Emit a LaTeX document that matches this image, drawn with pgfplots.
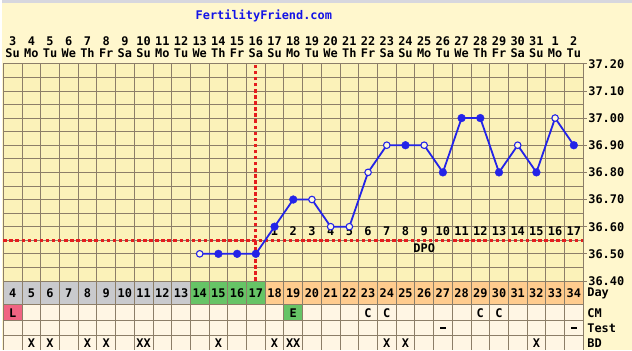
\documentclass[border=0pt]{standalone}
\usepackage{pgfplots}
\pgfplotsset{compat=1.18}
\usepackage{fontspec}
\setmainfont{DejaVu Sans Mono}
\definecolor{outerbg}{RGB}{255,247,205}
\definecolor{gridbg}{RGB}{251,242,185}
\definecolor{gridline}{RGB}{140,126,104}
\definecolor{topgray}{RGB}{215,215,222}
\definecolor{daygray}{RGB}{201,202,205}
\definecolor{daygreen}{RGB}{102,196,102}
\definecolor{dayorange}{RGB}{255,204,142}
\definecolor{cream}{RGB}{255,246,228}
\definecolor{lpink}{RGB}{240,100,130}
\definecolor{ffblue}{RGB}{35,35,232}
\definecolor{ffred}{RGB}{228,30,30}
\definecolor{titleblue}{RGB}{20,20,230}
\newcommand\lbl{\fontsize{12}{12}\selectfont\bfseries}
\begin{document}
\begin{tikzpicture}
\fill[outerbg] (0,0) rectangle (632bp,351bp);
\fill[topgray] (0,348bp) rectangle (632bp,351bp);
\begin{scope}[shift={(0,351bp)},x=1bp,y=-1bp]
  \node[font=\lbl, text=titleblue] at (262.5,16) {FertilityFriend.com};
  \foreach \d [count=\i from 0] in {3,4,5,6,7,8,9,10,11,12,13,14,15,16,17,18,19,20,21,22,23,24,25,26,27,28,29,30,31,1,2}
    \node[font=\lbl, inner sep=0pt] at ({1+(\i+0.5)*18.774},41) {\d};
  \foreach \w [count=\i from 0] in {Su,Mo,Tu,We,Th,Fr,Sa,Su,Mo,Tu,We,Th,Fr,Sa,Su,Mo,Tu,We,Th,Fr,Sa,Su,Mo,Tu,We,Th,Fr,Sa,Su,Mo,Tu}
    \node[font=\lbl, inner sep=0pt] at ({1+(\i+0.5)*18.774},53) {\w};
  % day row
  \foreach \i in {0,...,30} {
    \ifnum\i<10 \def\cc{daygray}\else\ifnum\i<14 \def\cc{daygreen}\else\def\cc{dayorange}\fi\fi
    \fill[\cc] ({1+\i*18.774},282) rectangle ({1+(\i+1)*18.774},306);
    \pgfmathtruncatemacro\dd{\i+4}
    \node[font=\lbl, inner sep=0pt] at ({1+(\i+0.5)*18.774},294) {\dd};
  }
  \fill[cream] (1,306) rectangle (583,351);
  \fill[lpink] (1,306) rectangle ({1+18.774},322);
  \fill[daygreen] ({1+15*18.774},306) rectangle ({1+16*18.774},322);
  \foreach \i in {0,...,31}
    \draw[gridline, line width=0.8bp] ({1+\i*18.774},282) -- ({1+\i*18.774},351);
  \foreach \y in {282,306,322,337}
    \draw[gridline, line width=0.8bp] (1,\y) -- (583,\y);
  % CM row
  \node[font=\lbl, inner sep=0pt] at ({1+0.5*18.774},314) {L};
  \node[font=\lbl, inner sep=0pt] at ({1+15.5*18.774},314) {E};
  \foreach \i in {19,20,25,26}
    \node[font=\lbl, inner sep=0pt] at ({1+(\i+0.5)*18.774},314) {C};
  % Test row
  \foreach \i in {23,30}
    \fill[black] ({1+(\i+0.5)*18.774-3},328.5) rectangle ({1+(\i+0.5)*18.774+3},330.5);
  % BD row
  \foreach \i/\t in {1/X,2/X,4/X,5/X,7/XX,11/X,14/X,15/XX,20/X,21/X,28/X}
    \node[font=\lbl, inner sep=0pt] at ({1+(\i+0.5)*18.774},344.3) {\t};
  % right labels
  \node[font=\lbl, anchor=west, inner sep=0pt] at (587,294) {Day};
  \node[font=\lbl, anchor=west, inner sep=0pt] at (587,314) {CM};
  \node[font=\lbl, anchor=west, inner sep=0pt] at (587,329.5) {Test};
  \node[font=\lbl, anchor=west, inner sep=0pt] at (587,344.3) {BD};
\end{scope}
\begin{axis}[
  at={(1bp,69bp)}, anchor=south west, scale only axis,
  width=582bp, height=218bp,
  xmin=-0.5, xmax=30.5, ymin=36.4, ymax=37.2,
  axis background/.style={fill=gridbg},
  xtick={-0.5,0.5,...,30.5}, xticklabels={}, xmajorgrids, xtick style={draw=none},
  ytick={36.4,36.5,36.6,36.7,36.8,36.9,37.0,37.1,37.2},
  minor ytick={36.45,36.55,36.65,36.75,36.85,36.95,37.05,37.15},
  ymajorgrids, yminorgrids,
  grid style={draw=gridline, line width=0.8bp},
  minor grid style={draw=gridline, line width=0.8bp},
  axis line style={draw=gridline, line width=0.8bp},
  ytick pos=right, yticklabel pos=right, tick align=outside,
  major tick length=4bp, minor tick length=0pt,
  ytick style={draw=gridline, line width=0.8bp},
  yticklabel style={font=\lbl, inner sep=1bp,
    /pgf/number format/.cd, fixed, fixed zerofill, precision=2, assume math mode=true},
  clip=false,
]
% coverline and ovulation line
\addplot[ffred, line width=2.8bp, dash pattern=on 3.5bp off 2.6bp] coordinates {(-0.5,36.55) (30.5,36.55)};
\addplot[ffred, line width=2.8bp, dash pattern=on 3.5bp off 2.6bp] coordinates {(13,36.4) (13,37.2)};
% DPO labels
\pgfplotsinvokeforeach{14,...,30}{
  \node[font=\lbl, inner sep=0pt] at (axis cs:#1,36.583) {\pgfmathparse{int(#1-13)}\pgfmathresult};
}
\node[font=\lbl, inner sep=0pt] at (axis cs:22,36.52) {DPO};
% temperatures
\addplot[ffblue, line width=1.8bp, line join=round, no markers] coordinates {
 (10,36.50) (11,36.50) (12,36.50) (13,36.50) (14,36.60) (15,36.70) (16,36.70)
 (17,36.60) (18,36.60) (19,36.80) (20,36.90) (21,36.90) (22,36.90) (23,36.80)
 (24,37.00) (25,37.00) (26,36.80) (27,36.90) (28,36.80) (29,37.00) (30,36.90)};
\addplot[only marks, mark=*, mark size=3.9bp, mark options={draw=ffblue, fill=ffblue}] coordinates {
 (11,36.50) (12,36.50) (13,36.50) (14,36.60) (15,36.70) (21,36.90) (23,36.80)
 (24,37.00) (25,37.00) (26,36.80) (28,36.80) (30,36.90)};
\addplot[only marks, mark=*, mark size=3.3bp, mark options={draw=ffblue, fill=white!50!gridbg, line width=1.1bp}] coordinates {
 (10,36.50) (16,36.70) (17,36.60) (18,36.60) (19,36.80) (20,36.90) (22,36.90)
 (27,36.90) (29,37.00)};
\end{axis}
\end{tikzpicture}
\end{document}
